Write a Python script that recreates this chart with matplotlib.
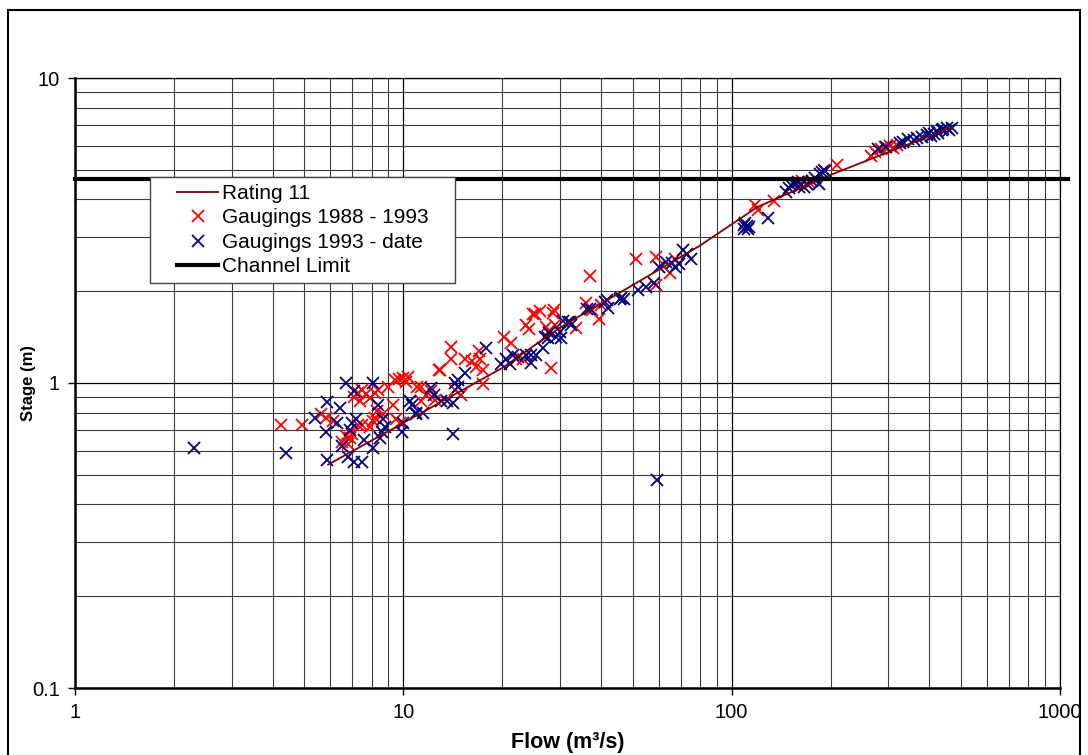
import matplotlib
matplotlib.use("Agg")
import matplotlib.pyplot as plt
from matplotlib.patches import Rectangle
from matplotlib.ticker import FixedLocator, NullFormatter

plt.rcParams['font.family'] = ['Liberation Sans', 'DejaVu Sans']

# ---------------- Data ----------------
rating_q = [5.9, 8.9, 20, 30, 40, 80, 120, 200, 260, 470]
rating_h = [0.54, 0.69, 1.12, 1.52, 1.82, 2.82, 3.78, 4.81, 5.38, 6.9]

red_q = [4.25, 4.9, 5.6, 5.8, 6.1, 6.5, 6.9, 7.0, 7.3, 7.5, 7.1, 7.3, 7.5, 7.7, 7.9,
         8.2, 8.4, 7.4, 8.3, 8.7, 8.2, 9.3, 9.5, 9.8, 9.0, 9.4, 9.7, 10.0, 10.2, 11.0,
         6.8, 7.9, 8.1, 6.7, 10.3, 11.3, 11.7, 12.1, 12.8, 14.0, 14.0, 15.4, 16.2, 17.1,
         17.5, 17.5, 12.5, 11.3, 15.0, 14.4, 20.2, 21.3, 23.7, 24.2, 24.9, 28.5, 28.1,
         29.0, 23.2, 22.1, 16.7, 12.9, 17.0, 25.2, 51, 37, 59, 67, 65, 59, 28.8, 27.2,
         27.8, 33.6, 36, 37.6, 39.5, 40, 26, 118, 120, 135, 162, 172, 210, 191, 164,
         273, 284, 293, 303, 318, 266, 310]
red_h = [0.73, 0.73, 0.79, 0.77, 0.75, 0.64, 0.66, 0.68, 0.73, 0.73, 0.90, 0.93, 0.95, 0.92, 0.89,
         0.93, 0.95, 0.87, 0.81, 0.79, 0.77, 0.85, 0.76, 0.74, 0.97, 1.02, 1.03, 1.04, 1.01, 0.97,
         0.63, 0.72, 0.75, 0.67, 1.05, 0.97, 0.91, 0.94, 1.10, 1.31, 1.20, 1.20, 1.18, 1.20,
         1.10, 0.99, 0.88, 0.87, 0.91, 0.95, 1.42, 1.35, 1.55, 1.50, 1.68, 1.70, 1.12,
         1.55, 1.20, 1.20, 1.13, 1.10, 1.27, 1.68, 2.55, 2.25, 2.58, 2.55, 2.30, 2.10, 1.73, 1.53,
         1.48, 1.52, 1.83, 1.73, 1.62, 1.80, 1.72, 3.84, 3.70, 3.96, 4.50, 4.55, 5.20, 5.00, 4.60,
         5.70, 5.85, 5.95, 6.00, 6.05, 5.55, 5.90]

blue_q = [2.3, 4.4, 5.38, 5.84, 5.8, 5.85, 6.4, 6.7, 7.1, 6.3, 6.5, 6.8, 7.0, 7.2, 6.9,
          7.1, 7.5, 8.1, 7.6, 8.1, 8.4, 8.6, 8.5, 8.8, 8.7, 9.9, 10.0, 10.6, 10.9,
          10.5, 10.9, 11.5, 12.1, 12.4, 13.0, 13.6, 14.2, 14.4, 14.7, 14.7, 15.4, 17.9,
          19.9, 20.6, 21.1, 21.6, 22.4, 24.5, 24.5, 25.4, 26.6, 27.5, 29.2, 14.2, 23.7,
          27.0, 30.3, 32.1, 36.2, 41.7, 45.6, 27.8, 29.9, 32.3, 37, 41, 42, 46, 47, 52,
          55, 58, 60, 63, 66, 67, 73, 75, 69, 71, 59.3, 30.6, 31.8,
          109, 112, 110, 109, 113, 111, 129, 146, 152, 155, 159, 160, 170, 166, 180, 186,
          189, 193, 176, 185, 150, 279, 296, 325, 345, 366, 380, 393, 412, 422, 438, 453,
          469, 426, 406, 358, 333, 440, 460, 398]
blue_h = [0.61, 0.59, 0.77, 0.867, 0.69, 0.56, 0.83, 1.00, 0.94, 0.74, 0.62, 0.57, 0.74, 0.76, 0.70,
          0.55, 0.55, 1.00, 0.65, 0.61, 0.85, 0.69, 0.66, 0.72, 0.76, 0.69, 0.74, 0.85, 0.79,
          0.87, 0.80, 0.80, 0.96, 0.91, 0.87, 0.87, 0.86, 1.00, 1.02, 0.97, 1.08, 1.30,
          1.15, 1.20, 1.15, 1.24, 1.22, 1.24, 1.16, 1.24, 1.30, 1.40, 1.42, 0.68, 1.24,
          1.41, 1.40, 1.59, 1.75, 1.87, 1.89, 1.46, 1.47, 1.55, 1.75, 1.85, 1.76, 1.90, 1.88, 2.02,
          2.06, 2.13, 2.40, 2.50, 2.47, 2.40, 2.65, 2.55, 2.45, 2.73, 0.48, 1.60, 1.58,
          3.30, 3.20, 3.35, 3.20, 3.25, 3.28, 3.47, 4.24, 4.45, 4.50, 4.55, 4.40, 4.50, 4.40, 4.70, 4.85,
          4.90, 4.95, 4.60, 4.50, 4.35, 5.85, 5.95, 6.10, 6.30, 6.35, 6.40, 6.50, 6.55, 6.70, 6.75, 6.85,
          6.85, 6.60, 6.45, 6.25, 6.15, 6.80, 6.75, 6.60]

channel_limit = 4.65
x_ticks = [1, 10, 100, 1000]
x_labels = ['1', '10', '100', '1000']
y_ticks = [0.1, 1, 10]
y_labels = ['0.1', '1', '10']

W, H = 1088, 755  # figure size in pixels

# ---------------- Figure ----------------
fig = plt.figure(figsize=(W / 100, H / 100), dpi=100)
ax = fig.add_axes([75 / W, 67 / H, 985 / W, 610 / H])
ax.set_xscale('log')
ax.set_yscale('log')

ax.plot(rating_q, rating_h, color='#800000', lw=1.3, label='Rating 11', zorder=4)
ax.plot(red_q, red_h, ls='none', marker='x', ms=8, mew=1.3, color='#FF0000',
        label='Gaugings 1988 - 1993', zorder=3)
ax.plot(blue_q, blue_h, ls='none', marker='x', ms=8, mew=1.3, color='#000080',
        label='Gaugings 1993 - date', zorder=3)
ax.plot([1, 1060], [channel_limit, channel_limit], color='black', lw=3,
        label='Channel Limit', clip_on=False, zorder=5)

ax.set_xlim(1, 1000)
ax.set_ylim(0.1, 10)

# grid: major + minor lines
ax.xaxis.set_major_locator(FixedLocator(x_ticks))
ax.yaxis.set_major_locator(FixedLocator(y_ticks))
ax.set_xticklabels(x_labels)
ax.set_yticklabels(y_labels)
ax.xaxis.set_minor_formatter(NullFormatter())
ax.yaxis.set_minor_formatter(NullFormatter())
ax.grid(which='major', color='black', lw=0.9, zorder=0)
ax.grid(which='minor', color='#3a3a3a', lw=0.8, zorder=0)
ax.set_axisbelow(True)
ax.tick_params(which='major', direction='out', length=5, width=1, labelsize=14.5, pad=6)
ax.tick_params(which='minor', length=0)
for side in ['left', 'bottom']:
    ax.spines[side].set_linewidth(1.8)
for side in ['top', 'right']:
    ax.spines[side].set_linewidth(0.9)

ax.set_xlabel('Flow (m³/s)', fontsize=15.5, fontweight='bold')
ax.xaxis.set_label_coords(0.5, (688 - 732) / 610)
ax.set_ylabel('Stage (m)', fontsize=12, fontweight='bold')
ax.yaxis.set_label_coords((36 - 75) / 985, 0.5)

# legend: frame drawn separately so the padding matches the reference box
ax.add_patch(Rectangle((150 / W, 1 - 283 / H), 305 / W, 106 / H,
                       transform=fig.transFigure, facecolor='white',
                       edgecolor='#444444', lw=1.0, zorder=9, clip_on=False))
leg = ax.legend(loc='upper left', bbox_to_anchor=(177 / W, 1 - 184 / H),
                bbox_transform=fig.transFigure, borderaxespad=0, borderpad=0,
                fontsize=15, frameon=False, handlelength=1.97, handletextpad=0.2,
                labelspacing=0.26)
leg.set_zorder(10)

# outer chart border
fig.patches.append(Rectangle((8 / W, -0.01), 1072 / W, (745 / H) + 0.01,
                             transform=fig.transFigure, fill=False,
                             edgecolor='black', lw=1.5))

fig.savefig('out.png', dpi=100)
